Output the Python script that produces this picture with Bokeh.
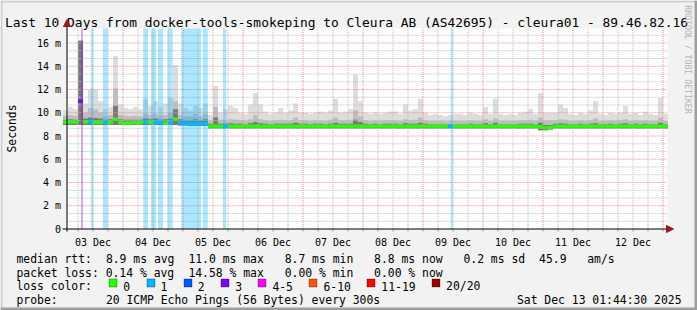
import re
import math
from bokeh.plotting import figure
from bokeh.models import Range1d, Label, BoxAnnotation, Arrow, NormalHead
from bokeh.embed import file_html
from bokeh.resources import INLINE

# ---------------- data ----------------
TITLE = "Last 10 Days from docker-tools-smokeping to Cleura AB (AS42695) - cleura01 - 89.46.82.16"
START_H = 1 + 44.5 / 60          # 03 Dec 01:44:30, hours after 03 Dec 00:00
SPAN_H = 240                      # 10 days
day_labels = ["03 Dec", "04 Dec", "05 Dec", "06 Dec", "07 Dec",
              "08 Dec", "09 Dec", "10 Dec", "11 Dec", "12 Dec"]
y_tick_values = [0, 2, 4, 6, 8, 10, 12, 14, 16]
y_tick_labels = ["0", "2 m", "4 m", "6 m", "8 m", "10 m", "12 m", "14 m", "16 m"]
BIN_H = 2                         # hours per consolidated column

# smoke envelope (ms) per 2-hour column
smoke_max = [10.2, 10.5, 10.3, 16.2, 10.8, 12.0, 12.0, 11.0, 10.3, 10.5,
             14.9, 10.7, 10.4, 10.3, 10.5, 10.3, 11.2, 10.6, 11.0, 10.5,
             10.8, 11.3, 14.1, 10.8, 10.4, 10.2, 10.6, 10.4, 10.8, 9.8,
             12.3, 10.0, 10.3, 10.6, 10.4, 10.0, 9.9, 10.7, 11.7, 10.7,
             10.1, 9.9, 10.0, 10.4, 10.0, 10.2, 10.8, 10.0, 10.0, 9.9,
             10.0, 10.1, 10.0, 10.2, 11.2, 10.0, 10.1, 10.3, 13.3, 11.0,
             10.0, 9.9, 10.0, 9.9, 10.0, 10.1, 10.1, 9.9, 10.7, 10.2,
             10.3, 11.2, 10.0, 9.8, 9.9, 9.8, 9.7, 9.8, 9.9, 9.9,
             9.8, 10.0, 9.9, 9.8, 10.5, 9.9, 11.2, 9.9, 9.8, 9.9,
             9.8, 10.0, 10.1, 10.3, 9.9, 11.7, 10.0, 10.0, 10.0, 10.7,
             10.4, 9.9, 9.8, 10.0, 9.9, 10.2, 11.0, 9.9, 9.8, 10.0,
             9.9, 10.0, 10.6, 9.9, 10.0, 9.8, 10.1, 9.9, 9.8, 11.3, 9.9]
smoke_mid = [9.75, 9.8, 9.75, 16.2, 10.0, 10.4, 10.3, 10.0, 9.75, 9.8,
             12.1, 9.8, 9.75, 9.7, 9.75, 9.7, 9.9, 9.8, 9.9, 9.75,
             9.8, 10.0, 11.0, 9.8, 9.7, 9.7, 9.9, 9.7, 9.9, 9.35,
             10.5, 9.4, 9.35, 9.45, 9.4, 9.35, 9.3, 9.45, 9.8, 9.45,
             9.35, 9.3, 9.35, 9.4, 9.35, 9.35, 9.6, 9.35, 9.35, 9.3,
             9.35, 9.35, 9.3, 9.4, 9.6, 9.35, 9.35, 9.4, 10.2, 9.7,
             9.35, 9.3, 9.35, 9.3, 9.35, 9.35, 9.35, 9.3, 9.45, 9.35,
             9.4, 9.6, 9.35, 9.3, 9.3, 9.3, 9.25, 9.3, 9.3, 9.3,
             9.3, 9.35, 9.3, 9.3, 9.45, 9.3, 9.5, 9.3, 9.3, 9.3,
             9.3, 9.35, 9.35, 9.4, 9.3, 9.6, 9.35, 9.35, 9.35, 9.45,
             9.4, 9.3, 9.3, 9.35, 9.3, 9.35, 9.5, 9.3, 9.3, 9.35,
             9.3, 9.35, 9.45, 9.3, 9.35, 9.3, 9.35, 9.3, 9.3, 9.6, 9.3]
smoke_dark = [9.4, 9.45, 9.4, 16.2, 9.5, 9.6, 9.55, 9.5, 9.4, 9.45,
              10.6, 9.45, 9.4, 9.4, 9.4, 9.4, 9.5, 9.45, 9.5, 9.4,
              9.45, 9.5, 10.3, 9.45, 9.35, 9.35, 9.45, 9.35, 9.45, 9.05,
              9.6, 9.05, 9.05, 9.1, 9.05, 9.05, 9.0, 9.1, 9.2, 9.1,
              9.05, 9.0, 9.05, 9.05, 9.05, 9.05, 9.15, 9.05, 9.05, 9.0,
              9.05, 9.05, 9.0, 9.05, 9.15, 9.05, 9.05, 9.05, 9.4, 9.2,
              9.05, 9.0, 9.05, 9.0, 9.05, 9.05, 9.05, 9.0, 9.1, 9.05,
              9.05, 9.15, 9.05, 9.0, 9.0, 9.0, 9.0, 9.0, 9.0, 9.0,
              9.0, 9.05, 9.0, 9.0, 9.1, 9.0, 9.15, 9.0, 9.0, 9.0,
              9.0, 9.05, 9.05, 9.05, 9.0, 9.15, 8.95, 8.95, 9.05, 9.1,
              9.05, 9.0, 9.0, 9.05, 9.0, 9.05, 9.1, 9.0, 9.0, 9.05,
              9.0, 9.05, 9.1, 9.0, 9.05, 9.0, 9.05, 9.0, 9.0, 9.15, 9.0]
smoke_min = [8.95, 8.95, 8.95, 8.95, 8.95, 8.95, 8.95, 8.95, 8.95, 8.95,
             8.95, 8.95, 8.95, 8.95, 8.95, 8.95, 8.95, 8.95, 8.95, 8.95,
             8.95, 8.95, 8.95, 8.9, 8.9, 8.85, 8.85, 8.85, 8.85, 8.65,
             8.65, 8.65, 8.65, 8.65, 8.65, 8.65, 8.65, 8.65, 8.65, 8.65,
             8.65, 8.65, 8.65, 8.65, 8.65, 8.65, 8.65, 8.65, 8.65, 8.65,
             8.65, 8.65, 8.65, 8.65, 8.65, 8.65, 8.65, 8.65, 8.65, 8.65,
             8.65, 8.65, 8.65, 8.65, 8.65, 8.65, 8.65, 8.65, 8.65, 8.65,
             8.65, 8.65, 8.65, 8.65, 8.65, 8.65, 8.65, 8.65, 8.65, 8.65,
             8.65, 8.65, 8.65, 8.65, 8.65, 8.65, 8.65, 8.65, 8.65, 8.65,
             8.65, 8.65, 8.65, 8.65, 8.65, 8.5, 8.5, 8.55, 8.65, 8.65,
             8.65, 8.65, 8.65, 8.65, 8.65, 8.65, 8.65, 8.65, 8.65, 8.65,
             8.65, 8.65, 8.65, 8.65, 8.65, 8.65, 8.65, 8.65, 8.65, 8.65, 8.65]
# median rtt (ms) per column
median = [9.2, 9.2, 9.2, 11.0, 9.2, 9.2, 9.15, 9.15, 9.2, 9.15,
          9.45, 9.15, 9.1, 9.1, 9.15, 9.15, 9.2, 9.15, 9.15, 9.15,
          9.1, 9.15, 9.45, 9.1, 9.1, 9.05, 9.05, 9.05, 9.05, 8.85,
          8.85, 8.85, 8.85, 8.85, 8.85, 8.85, 8.85, 8.85, 8.85, 8.85,
          8.85, 8.85, 8.85, 8.85, 8.85, 8.85, 8.85, 8.85, 8.85, 8.85,
          8.85, 8.85, 8.85, 8.85, 8.85, 8.85, 8.85, 8.85, 8.85, 8.85,
          8.85, 8.85, 8.85, 8.85, 8.85, 8.85, 8.85, 8.85, 8.85, 8.85,
          8.85, 8.85, 8.85, 8.85, 8.85, 8.85, 8.85, 8.85, 8.85, 8.85,
          8.85, 8.85, 8.85, 8.85, 8.85, 8.85, 8.85, 8.85, 8.85, 8.85,
          8.85, 8.85, 8.85, 8.85, 8.85, 8.8, 8.7, 8.75, 8.85, 8.85,
          8.85, 8.85, 8.85, 8.85, 8.85, 8.85, 8.85, 8.85, 8.85, 8.85,
          8.85, 8.85, 8.85, 8.85, 8.85, 8.85, 8.85, 8.85, 8.85, 8.85, 8.85]
# loss colour class (index into loss_colors) of each column's median
loss_class = [0, 0, 0, 3, 0, 1, 0, 0, 1, 0,
              0, 0, 0, 0, 0, 0, 1, 0, 1, 1,
              0, 1, 0, 1, 1, 1, 1, 1, 1, 0,
              0, 0, 1, 0, 0, 0, 0, 0, 0, 0,
              0, 0, 0, 0, 0, 0, 0, 0, 0, 0,
              0, 0, 0, 0, 0, 0, 0, 0, 0, 0,
              0, 0, 0, 0, 0, 0, 0, 0, 0, 0,
              0, 0, 0, 0, 0, 0, 0, 1, 0, 0,
              0, 0, 0, 0, 0, 0, 0, 0, 0, 0,
              0, 0, 0, 0, 0, 0, 0, 0, 0, 0,
              0, 0, 0, 0, 0, 0, 0, 0, 0, 0,
              0, 0, 0, 0, 0, 0, 0, 0, 0, 0, 0]
# loss background periods: start hour, end hour, loss class
loss_start = [7.2, 11.2, 16.0, 32.1, 35.2, 38.0, 41.9, 47.3, 55.9, 64.0, 155.1]
loss_end = [8.0, 12.1, 17.9, 34.0, 37.2, 40.0, 43.9, 55.2, 57.9, 65.3, 155.9]
loss_level = [3, 1, 1, 1, 1, 1, 1, 1, 1, 1, 1]

loss_labels = ["0", "1", "2", "3", "4-5", "6-10", "11-19", "20/20"]
loss_colors = ["#26ff00", "#00b8ff", "#0059ff", "#7e00ff", "#ff00ff", "#ff5500", "#ff0000", "#a10000"]

stat_line1 = "median rtt:  8.9 ms avg  11.0 ms max   8.7 ms min   8.8 ms now   0.2 ms sd  45.9   am/s"
stat_line2 = "packet loss: 0.14 % avg  14.58 % max   0.00 % min   0.00 % now"
stat_line3 = "loss color:"
stat_line4 = "probe:       20 ICMP Echo Pings (56 Bytes) every 300s"
stamp = "Sat Dec 13 01:44:30 2025"
watermark = "RRDTOOL / TOBI OETIKER"

# ---------------- geometry ----------------
W, H = 697, 310
PX_PER_H = 2.5          # 600 px for 10 days
PX_PER_MS = 11.625      # 2 ms per 23.25 px
X0 = -25.0              # hour at canvas x = 0
Y_AT_BOTTOM = (228.5 - H) / PX_PER_MS   # value at canvas bottom (0 ms at row 228)
Y_AT_TOP = 228.5 / PX_PER_MS
Y_TOP = (228.5 - 28) / PX_PER_MS        # top of the white drawing canvas
MONO = "DejaVu Sans Mono"

p = figure(width=W, height=H, output_backend="svg", toolbar_location=None,
           x_range=Range1d(X0, X0 + W / PX_PER_H), y_range=Range1d(Y_AT_BOTTOM, Y_AT_TOP),
           x_axis_type=None, y_axis_type=None, min_border=0)
p.min_border_left = p.min_border_right = p.min_border_top = p.min_border_bottom = 0
p.background_fill_color = "#f2f2f2"
p.border_fill_color = "#f2f2f2"
p.outline_line_color = None
p.grid.visible = False

x_end = START_H + SPAN_H

# white drawing canvas
p.quad(left=[START_H], right=[x_end], bottom=[0], top=[Y_TOP],
       fill_color="white", line_color=None, level="image")

# smoke
starts = [BIN_H * i for i in range(len(median))]
xs = starts + [starts[-1] + BIN_H]
def ext(a):
    return list(a) + [a[-1]]
p.varea_step(x=xs, y1=ext(smoke_min), y2=ext(smoke_max), step_mode="after",
             fill_color="#dddddd", level="underlay")
p.varea_step(x=xs, y1=ext(smoke_min), y2=ext(smoke_mid), step_mode="after",
             fill_color="#bdbdbd", level="underlay")
p.varea_step(x=xs, y1=ext(smoke_min), y2=ext(smoke_dark), step_mode="after",
             fill_color="#7a7a7a", level="underlay")

# grid: 6-hour minor (grey), midnight major (red); 2/3 ms minor, 2 ms major
v_minor = [6 * i for i in range(1, 41) if i % 4]
v_major = [24 * i for i in range(1, 11)]
h_minor = [k * 2 / 3 for k in range(1, 26) if k % 3]
h_major = [2 * k for k in range(1, 9)]
p.segment(x0=v_minor, x1=v_minor, y0=[0] * len(v_minor), y1=[Y_TOP] * len(v_minor),
          line_color="#bdbdbd", line_width=1, line_dash="1 1", level="underlay")
p.segment(x0=[START_H] * len(h_minor), x1=[x_end] * len(h_minor), y0=h_minor, y1=h_minor,
          line_color="#bdbdbd", line_width=1, line_dash="1 1", level="underlay")
p.segment(x0=v_major, x1=v_major, y0=[0] * len(v_major), y1=[Y_TOP] * len(v_major),
          line_color="#ee9090", line_width=1, line_dash="1 1", level="underlay")
p.segment(x0=[START_H] * len(h_major), x1=[x_end] * len(h_major), y0=h_major, y1=h_major,
          line_color="#ee9090", line_width=1, line_dash="1 1", level="underlay")

# loss background bars
p.quad(left=loss_start, right=loss_end, bottom=[0] * len(loss_start), top=[Y_TOP] * len(loss_start),
       fill_color=[loss_colors[l] for l in loss_level], fill_alpha=0.33, line_color=None, level="underlay")

# median line coloured by loss
p.segment(x0=starts, x1=[s + BIN_H for s in starts], y0=median, y1=median,
          line_color=[loss_colors[c] for c in loss_class], line_width=3.2, line_cap="butt")

# x-axis tick marks below the axis (every 6 h)
tick_len = 2.5 / PX_PER_MS
all_ticks = [6 * i for i in range(1, 41)]
p.segment(x0=all_ticks, x1=all_ticks, y0=[0] * len(all_ticks), y1=[-tick_len] * len(all_ticks),
          line_color=["#e08080" if t % 24 == 0 else "#a0a0a0" for t in all_ticks], line_width=1)

# ---------------- texts & decorations (canvas px; screen y measured from bottom) ----------------
def lab(cx, cy, text, size, color="black", align="left", baseline="alphabetic", angle=0.0):
    p.add_layout(Label(x=cx, y=H - cy, x_units="screen", y_units="screen", text=text,
                       text_font=MONO, text_font_size=f"{size}px", text_color=color,
                       text_align=align, text_baseline=baseline, angle=angle))

def box(x0, y0, x1, y1, fill, line=None):
    p.add_layout(BoxAnnotation(left=x0, right=x1, top=H - y0, bottom=H - y1,
                               left_units="screen", right_units="screen",
                               top_units="screen", bottom_units="screen",
                               fill_color=fill, fill_alpha=1.0,
                               line_color=line, line_width=1, level="overlay"))

# y tick labels at their values
for v, t in zip(y_tick_values, y_tick_labels):
    p.add_layout(Label(x=60.5, x_units="screen", y=v, y_units="data", text=t,
                       text_font=MONO, text_font_size="10px", text_color="black",
                       text_align="right", text_baseline="middle"))
# x tick labels at noon of each day
for i, d in enumerate(day_labels):
    p.add_layout(Label(x=12 + 24 * i, x_units="data", y=H - 241.5, y_units="screen", text=d,
                       text_font=MONO, text_font_size="10px", text_color="black",
                       text_align="center", text_baseline="alphabetic"))

lab(346, 22.4, TITLE, 12.9, align="center")
lab(687, 59, watermark, 8.2, color="#b4b4b4", align="center", baseline="middle", angle=-math.pi / 2)
lab(11, 128, "Seconds", 11.4, align="center", baseline="middle", angle=math.pi / 2)

CW = 6.876
TX0 = 16
for line, base in ((stat_line1, 258.3), (stat_line2, 272.0), (stat_line3, 285.7), (stat_line4, 299.4)):
    for m in re.finditer(r"\S+(?: \S+)*", line):
        lab(TX0 + m.start() * CW, base, m.group(), 11.4)
lab(681, 299.4, stamp, 11.4, align="right")

sx = 108.3
for name, col in zip(loss_labels, loss_colors):
    bx = round(sx) + 0.5
    box(bx, 278.5, bx + 8, 286.5, col, "black")
    lab(sx + 14.5, 285.7, name, 11.4)
    sx += 30.4 + len(name) * CW

# axis lines with arrow heads
p.add_layout(Arrow(x_start=66.5, y_start=H - 231, x_end=66.5, y_end=H - 19,
                   start_units="screen", end_units="screen", line_color="black", line_width=1,
                   end=NormalHead(size=7, fill_color="#a01818", line_color="#a01818", line_width=1)))
p.add_layout(Arrow(x_start=62, y_start=H - 228.5, x_end=673, y_end=H - 228.5,
                   start_units="screen", end_units="screen", line_color="black", line_width=1,
                   end=NormalHead(size=7, fill_color="#a01818", line_color="#a01818", line_width=1)))

# 3D frame of the image
box(0, 0, W, 2, "#cfcfcf")
box(0, 0, 2, H, "#cfcfcf")
box(0, H - 3, W, H, "#9e9e9e")
box(W - 3, 0, W, H, "#9e9e9e")

open("out.html", "w").write(file_html(p, INLINE))
